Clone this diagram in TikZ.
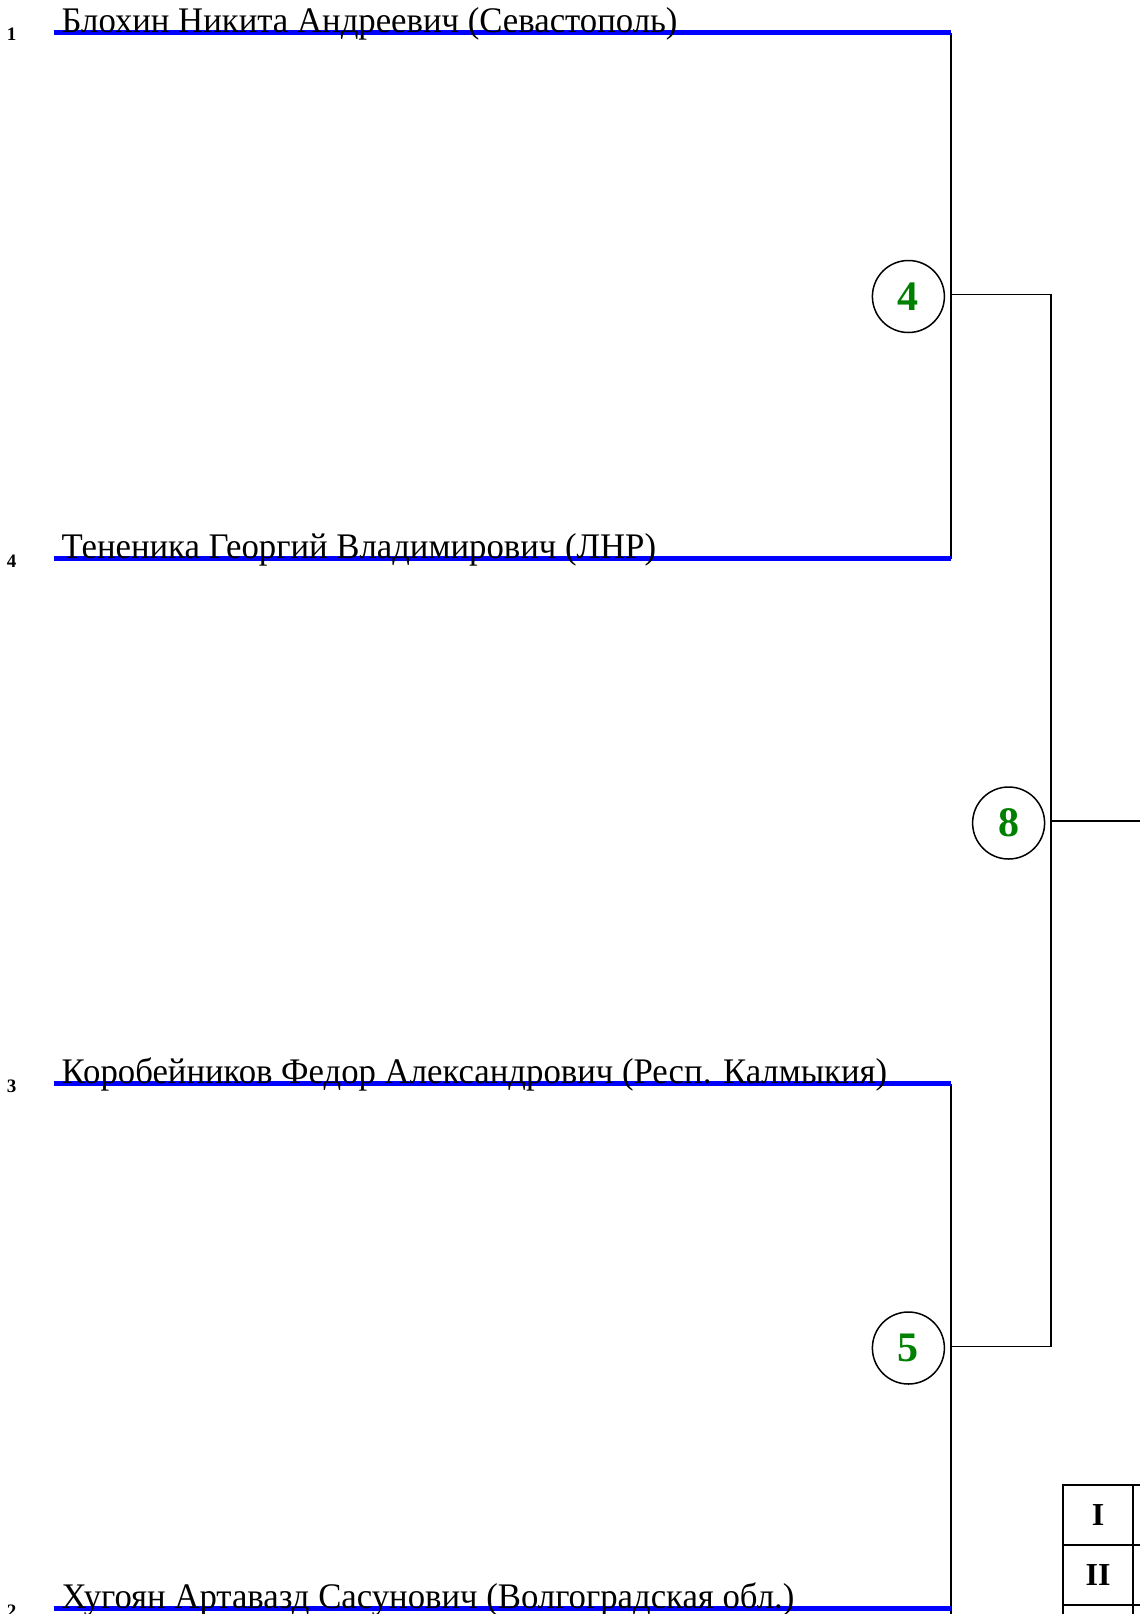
\documentclass[tikz,border=0pt]{standalone}
\usepackage{fontspec}
\usepackage{graphicx}
\setmainfont{Liberation Serif}
\definecolor{bblue}{RGB}{0,0,255}
\definecolor{ggreen}{RGB}{0,128,0}
\newcommand{\nm}[1]{\scalebox{0.965}[1]{#1}}
\begin{document}
\begin{tikzpicture}[x=1pt,y=-1pt,
  namebox/.style={anchor=base west,inner sep=0pt,font=\fontsize{36}{40}\selectfont},
  seedlbl/.style={anchor=base,inner sep=0pt,font=\fontsize{19}{20}\selectfont\bfseries},
  bline/.style={draw=bblue,line width=5pt},
  brk/.style={draw=black,line width=1.5pt},
  matchc/.style={circle,draw=black,fill=white,line width=1.5pt,minimum size=72pt,inner sep=0pt,text=ggreen,font=\fontsize{42}{46}\selectfont\bfseries},
  tcell/.style={draw=black,line width=2pt},
  tlbl/.style={font=\fontsize{32}{34}\selectfont\bfseries,inner sep=0pt}]
\useasboundingbox (0,0) rectangle (1140,1614);
\fill[white] (0,0) rectangle (1140,1614);
% player lines
\coordinate (p1s) at (53.5,32.5);   \coordinate (p1e) at (951,32.5);
\coordinate (p2s) at (53.5,558.5); \coordinate (p2e) at (951,558.5);
\coordinate (p3s) at (53.5,1083.5); \coordinate (p3e) at (951,1083.5);
\coordinate (p4s) at (53.5,1608.5); \coordinate (p4e) at (951,1608.5);
\coordinate (bot) at (951,1614);
% bracket joints
\coordinate (j4) at (951,294.5);
\coordinate (j4r) at (1051,294.5);
\coordinate (j5) at (951,1346.5);
\coordinate (j5r) at (1051,1346.5);
\coordinate (j8) at (1051,821);
\coordinate (j8r) at (1140,821);
% brackets
\draw[brk] (p1e) -- (p2e);
\draw[brk] (p3e) -- (bot);
\draw[brk] (j4) -- (j4r) -- (j5r) -- (j5);
\draw[brk] (j8) -- (j8r);
% blue lines
\draw[bline] (p1s) -- (p1e);
\draw[bline] (p2s) -- (p2e);
\draw[bline] (p3s) -- (p3e);
\draw[bline] (p4s) -- (p4e);
% names
\node[namebox] (n1) at (61.5,32.5) {\nm{Блохин Никита Андреевич (Севастополь)}};
\node[namebox] (n2) at (61.5,558.5) {\nm{Тененика Георгий Владимирович (ЛНР)}};
\node[namebox] (n3) at (61.5,1083.5) {\nm{Коробейников Федор Александрович (Респ. Калмыкия)}};
\node[namebox] (n4) at (61.5,1608.5) {\nm{Хугоян Артавазд Сасунович (Волгоградская обл.)}};
% seeds
\node[seedlbl] (s1) at (11.5,40.7) {1};
\node[seedlbl] (s2) at (11.5,567) {4};
\node[seedlbl] (s3) at (11.5,1092.5) {3};
\node[seedlbl] (s4) at (11.5,1617.5) {2};
% match circles
\node[matchc] (m4) at (908.4,296.5) {4};
\node[matchc] (m8) at (1008.6,823) {8};
\node[matchc] (m5) at (908.4,1348) {5};
% table
\draw[tcell] (1063,1485) rectangle (1133,1545);
\draw[tcell] (1063,1545) rectangle (1133,1605);
\draw[tcell] (1063,1605) rectangle (1133,1665);
\draw[tcell] (1133,1485) rectangle (1200,1545);
\draw[tcell] (1133,1545) rectangle (1200,1605);
\draw[tcell] (1133,1605) rectangle (1200,1665);
\node[tlbl] (t1) at (1098,1515) {I};
\node[tlbl] (t2) at (1098,1575) {II};
\end{tikzpicture}
\end{document}
